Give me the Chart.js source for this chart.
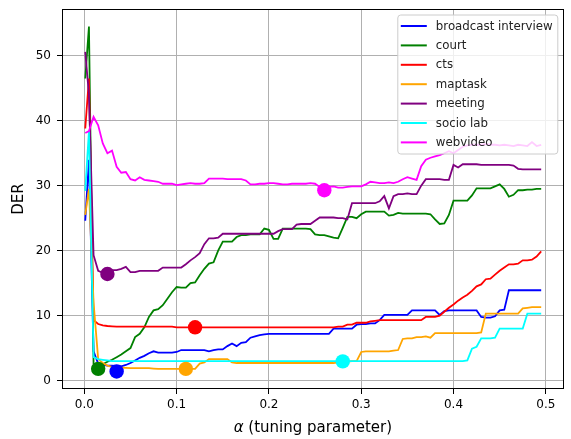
<!DOCTYPE html>
<html><head><meta charset="utf-8">
<script src="https://cdn.jsdelivr.net/npm/chart.js@4"></script>
<style>html,body{margin:0;padding:0;background:#fff;}#wrap{width:571px;height:439px;}</style>
</head><body><div id="wrap"><canvas id="c" width="571" height="439"></canvas></div>
<script>
const alpha = [
0.001,0.005,0.010,0.015,0.020,0.025,0.030,0.035,0.040,0.045,
0.050,0.055,0.060,0.065,0.070,0.075,0.080,0.085,0.090,0.095,
0.100,0.105,0.110,0.115,0.120,0.125,0.130,0.135,0.140,0.145,
0.150,0.155,0.160,0.165,0.170,0.175,0.180,0.185,0.190,0.195,
0.200,0.205,0.210,0.215,0.220,0.225,0.230,0.235,0.240,0.245,
0.250,0.255,0.260,0.265,0.270,0.275,0.280,0.285,0.290,0.295,
0.300,0.305,0.310,0.315,0.320,0.325,0.330,0.335,0.340,0.345,
0.350,0.355,0.360,0.365,0.370,0.375,0.380,0.385,0.390,0.395,
0.400,0.405,0.410,0.415,0.420,0.425,0.430,0.435,0.440,0.445,
0.450,0.455,0.460,0.465,0.470,0.475,0.480,0.485,0.490,0.495];

const broadcastInterview = [
24.6,34.0,4.5,2.6,2.4,2.3,2.3,2.2,2.2,2.4,
2.7,3.1,3.5,3.8,4.2,4.5,4.3,4.3,4.3,4.3,
4.4,4.7,4.7,4.7,4.7,4.7,4.7,4.5,4.7,4.8,
4.8,5.3,5.7,5.3,5.8,5.9,6.6,6.8,7.0,7.1,
7.2,7.2,7.2,7.2,7.2,7.2,7.2,7.2,7.2,7.2,
7.2,7.2,7.2,7.2,8.0,8.0,8.0,8.0,8.0,8.6,
8.7,8.7,8.8,8.8,9.3,10.1,10.1,10.1,10.1,10.1,
10.1,10.8,10.8,10.8,10.8,10.8,10.8,10.1,10.7,10.8,
10.8,10.8,10.8,10.8,10.8,10.8,9.8,9.7,9.7,9.9,
10.8,10.9,13.9,13.9,13.9,13.9,13.9,13.9,13.9,13.9];

const court = [
46.5,54.5,2.6,1.9,2.5,2.9,3.2,3.6,4.0,4.5,
5.0,6.7,7.2,8.2,9.8,10.8,11.0,11.6,12.6,13.6,
14.4,14.3,14.3,15.0,15.1,16.2,17.2,18.0,18.2,20.0,
21.4,21.4,21.4,22.1,22.4,22.4,22.5,22.5,22.5,23.4,
23.2,21.8,21.8,23.4,23.4,23.4,23.4,23.4,23.4,23.3,
22.5,22.4,22.4,22.2,22.0,21.9,23.5,25.2,25.2,25.0,
25.6,26.0,26.0,26.0,26.0,26.0,25.4,25.5,25.8,25.7,
25.7,25.7,25.7,25.7,25.7,25.6,24.8,24.1,24.2,25.5,
27.7,27.7,27.7,27.7,28.5,29.6,29.6,29.6,29.6,29.9,
30.2,29.5,28.3,28.6,29.3,29.3,29.4,29.4,29.5,29.5];

const cts = [
38.8,46.5,9.3,8.7,8.5,8.4,8.35,8.3,8.3,8.3,
8.3,8.3,8.3,8.3,8.3,8.3,8.3,8.3,8.3,8.3,
8.2,8.2,8.2,8.2,8.2,8.2,8.2,8.2,8.2,8.2,
8.2,8.2,8.2,8.2,8.2,8.2,8.2,8.2,8.2,8.2,
8.2,8.2,8.2,8.2,8.2,8.2,8.2,8.2,8.2,8.2,
8.2,8.2,8.2,8.2,8.2,8.3,8.3,8.6,8.6,8.9,
8.9,8.9,9.1,9.2,9.3,9.3,9.3,9.3,9.3,9.3,
9.3,9.3,9.3,9.3,9.8,9.8,9.8,10.0,10.6,11.2,
11.7,12.3,12.8,13.2,13.8,14.5,14.8,15.6,15.7,16.3,
16.9,17.4,17.9,17.9,18.0,18.5,18.5,18.6,19.1,19.9];

const maptask = [
25.5,29.5,12.0,3.3,2.7,2.3,2.1,2.0,2.0,1.95,
1.9,1.9,1.9,1.9,1.9,1.85,1.8,1.8,1.8,1.8,
1.8,1.8,1.8,1.8,1.8,2.6,2.8,3.3,3.3,3.3,
3.3,3.3,2.8,2.7,2.7,2.7,2.7,2.7,2.7,2.7,
2.7,2.7,2.7,2.7,2.7,2.7,2.7,2.7,2.7,2.7,
2.7,2.7,2.7,2.7,2.7,2.8,2.8,2.9,3.0,3.0,
4.4,4.5,4.5,4.5,4.5,4.5,4.5,4.6,4.7,6.4,
6.5,6.5,6.7,6.7,6.8,6.6,7.3,7.3,7.3,7.3,
7.3,7.3,7.3,7.3,7.3,7.3,7.4,10.3,10.3,10.3,
10.3,10.3,10.3,10.3,10.3,11.1,11.2,11.3,11.3,11.3];

const meeting = [
50.6,44.0,19.3,16.9,16.6,16.8,17.0,17.0,17.2,17.5,
16.7,16.7,16.9,16.9,16.9,16.9,16.9,17.4,17.4,17.4,
17.4,17.4,17.9,18.5,19.0,19.6,21.0,21.9,21.9,22.0,
22.6,22.6,22.6,22.6,22.6,22.6,22.6,22.6,22.6,22.6,
22.6,22.6,23.0,23.3,23.3,23.3,24.0,24.1,24.1,24.1,
24.6,25.1,25.1,25.1,25.1,25.0,25.0,24.8,27.3,27.3,
27.3,27.3,27.3,27.3,27.6,28.4,26.5,28.4,28.7,28.7,
28.8,28.7,28.7,30.0,31.0,31.0,31.0,31.0,30.9,30.9,
33.2,32.8,33.3,33.3,33.3,33.3,33.2,33.2,33.2,33.2,
33.2,33.2,33.2,33.1,32.6,32.5,32.5,32.5,32.5,32.5];

const socioLab = [
29.2,38.4,3.6,3.3,3.2,3.1,3.0,3.0,3.0,3.0,
3.0,3.0,3.0,3.0,3.0,3.0,3.0,3.0,3.0,3.0,
3.0,3.0,3.0,3.0,3.0,3.0,3.0,3.0,3.0,3.0,
3.0,3.0,3.0,3.0,3.0,3.0,3.0,3.0,3.0,3.0,
3.0,3.0,3.0,3.0,3.0,3.0,3.0,3.0,3.0,3.0,
3.0,3.0,3.0,3.0,3.0,3.0,3.0,3.0,3.0,3.0,
3.0,3.0,3.0,3.0,3.0,3.0,3.0,3.0,3.0,3.0,
3.0,3.0,3.0,3.0,3.0,3.0,3.0,3.0,3.0,3.0,
3.0,3.0,3.0,3.1,4.9,5.2,6.5,6.5,6.5,6.6,
8.0,8.0,8.0,8.0,8.0,8.0,10.3,10.3,10.3,10.3];

const webvideo = [
38.1,38.4,40.6,39.3,36.5,35.0,35.4,32.9,32.0,32.1,
31.0,30.8,31.3,30.9,30.8,30.7,30.6,30.3,30.3,30.3,
30.1,30.2,30.3,30.4,30.3,30.3,30.4,31.1,31.1,31.1,
31.1,31.0,31.0,31.0,31.0,30.8,30.2,30.2,30.3,30.3,
30.4,30.4,30.3,30.2,30.2,30.3,30.3,30.3,30.3,30.4,
30.3,29.8,29.7,29.8,29.9,29.7,29.7,29.8,29.9,29.9,
29.9,30.2,30.6,30.5,30.4,30.4,30.5,30.4,30.6,31.0,
31.3,31.1,30.9,33.0,34.0,34.3,34.5,34.7,35.0,35.3,
35.0,35.5,36.0,36.2,36.3,36.3,36.3,36.4,36.3,36.3,
36.2,36.3,36.2,36.1,36.3,36.2,36.1,36.7,36.1,36.3];

const seriesNames = ['broadcast interview','court','cts','maptask','meeting','socio lab','webvideo'];
const seriesValues = [broadcastInterview, court, cts, maptask, meeting, socioLab, webvideo];
const seriesColors = ['#0000ff','#008000','#ff0000','#ffa500','#800080','#00ffff','#ff00ff'];

// best-alpha markers (one per series, same order)
const markerAlpha = [0.035, 0.015, 0.12, 0.11, 0.025, 0.28, 0.26];
const markerDER = [1.4, 1.8, 8.2, 1.8, 16.4, 2.95, 29.3];

const xTicks = [0.0, 0.1, 0.2, 0.3, 0.4, 0.5];
const yTicks = [0, 10, 20, 30, 40, 50];
const xTitleSymbol = 'α';
const xTitleRest = ' (tuning parameter)';

const FONT = 'DejaVu Sans';

const datasets = [];
seriesNames.forEach((name, i) => {
  datasets.push({
    type: 'line',
    label: name,
    data: alpha.map((a, j) => ({x: a, y: seriesValues[i][j]})),
    borderColor: seriesColors[i],
    backgroundColor: seriesColors[i],
    borderWidth: 1.8,
    pointRadius: 0,
    tension: 0,
    fill: false,
    order: 20 - i
  });
});
seriesNames.forEach((name, i) => {
  datasets.push({
    type: 'scatter',
    label: name + ' best',
    data: [{x: markerAlpha[i], y: markerDER[i]}],
    backgroundColor: seriesColors[i],
    borderColor: seriesColors[i],
    borderWidth: 0,
    pointRadius: 7.2,
    showLine: false,
    order: 10 - i
  });
});

const framePlugin = {
  id: 'frame',
  afterDatasetsDraw(chart) {
    const {ctx, chartArea: a} = chart;
    ctx.save();
    ctx.strokeStyle = '#000';
    ctx.lineWidth = 1;
    ctx.strokeRect(Math.round(a.left) + 0.5, Math.round(a.top) + 0.5,
                   Math.round(a.right - a.left) - 1, Math.round(a.bottom - a.top) - 1);
    ctx.restore();
  }
};

const xTitlePlugin = {
  id: 'xTitle',
  afterDraw(chart) {
    const {ctx, chartArea: a} = chart;
    ctx.save();
    const fItal = 'italic 15px "' + FONT + '"';
    const fNorm = '15px "' + FONT + '"';
    ctx.font = fItal;
    const w1 = ctx.measureText(xTitleSymbol).width;
    ctx.font = fNorm;
    const w2 = ctx.measureText(xTitleRest).width;
    const cx = (a.left + a.right) / 2;
    const x0 = cx - (w1 + w2) / 2;
    const y = chart.height - 11;
    ctx.textBaseline = 'middle';
    ctx.textAlign = 'left';
    ctx.fillStyle = '#000';
    ctx.font = fItal;
    ctx.fillText(xTitleSymbol, x0, y);
    ctx.font = fNorm;
    ctx.fillText(xTitleRest, x0 + w1, y);
    ctx.restore();
  }
};

const legendPlugin = {
  id: 'boxLegend',
  afterDraw(chart) {
    const {ctx, chartArea: a} = chart;
    const right = a.right - 6, top = a.top + 6;
    const w = 160, rowH = 19.4, h = 139;
    const left = right - w;
    ctx.save();
    ctx.beginPath();
    const r = 3;
    ctx.moveTo(left + r, top);
    ctx.arcTo(right, top, right, top + h, r);
    ctx.arcTo(right, top + h, left, top + h, r);
    ctx.arcTo(left, top + h, left, top, r);
    ctx.arcTo(left, top, right, top, r);
    ctx.closePath();
    ctx.fillStyle = 'rgba(255,255,255,0.8)';
    ctx.fill();
    ctx.strokeStyle = '#cccccc';
    ctx.lineWidth = 1;
    ctx.stroke();
    ctx.font = '11.8px "' + FONT + '"';
    ctx.textBaseline = 'middle';
    ctx.textAlign = 'left';
    seriesNames.forEach((name, i) => {
      const y = top + 11 + i * rowH;
      ctx.strokeStyle = seriesColors[i];
      ctx.lineWidth = 2;
      ctx.beginPath();
      ctx.moveTo(left + 3, y);
      ctx.lineTo(left + 29, y);
      ctx.stroke();
      ctx.fillStyle = '#222';
      ctx.fillText(name, left + 38, y + 0.5);
    });
    ctx.restore();
  }
};

new Chart(document.getElementById('c'), {
  data: { datasets },
  options: {
    responsive: false,
    animation: false,
    devicePixelRatio: 1,
    events: [],
    layout: { padding: { top: 9, right: 2, bottom: 0, left: 0 } },
    plugins: { legend: { display: false }, tooltip: { enabled: false } },
    scales: {
      x: {
        type: 'linear',
        min: -0.0242, max: 0.5195,
        afterBuildTicks: s => { s.ticks = xTicks.map(v => ({value: v})); },
        afterFit: s => { s.height = 50; s.paddingLeft = 0; s.paddingRight = 0; },
        ticks: { callback: v => Number(v).toFixed(1), font: {family: FONT, size: 12}, color: '#000', padding: 4, maxRotation: 0, autoSkip: false },
        grid: { color: '#b0b0b0', lineWidth: 1, tickColor: '#000', tickLength: 5, drawTicks: true },
        border: { display: false },
        title: { display: false }
      },
      y: {
        type: 'linear',
        min: -1.3, max: 57.2,
        afterBuildTicks: s => { s.ticks = yTicks.map(v => ({value: v})); },
        afterFit: s => { s.width = 62; s.paddingTop = 0; s.paddingBottom = 0; },
        ticks: { callback: v => String(v), font: {family: FONT, size: 12}, color: '#000', padding: 6, autoSkip: false },
        grid: { color: '#b0b0b0', lineWidth: 1, tickColor: '#000', tickLength: 5, drawTicks: true },
        border: { display: false },
        title: { display: true, text: 'DER', font: {family: FONT, size: 15}, color: '#000', padding: {top: 10, bottom: 0} }
      }
    }
  },
  plugins: [framePlugin, xTitlePlugin, legendPlugin]
});
</script>
</body></html>
